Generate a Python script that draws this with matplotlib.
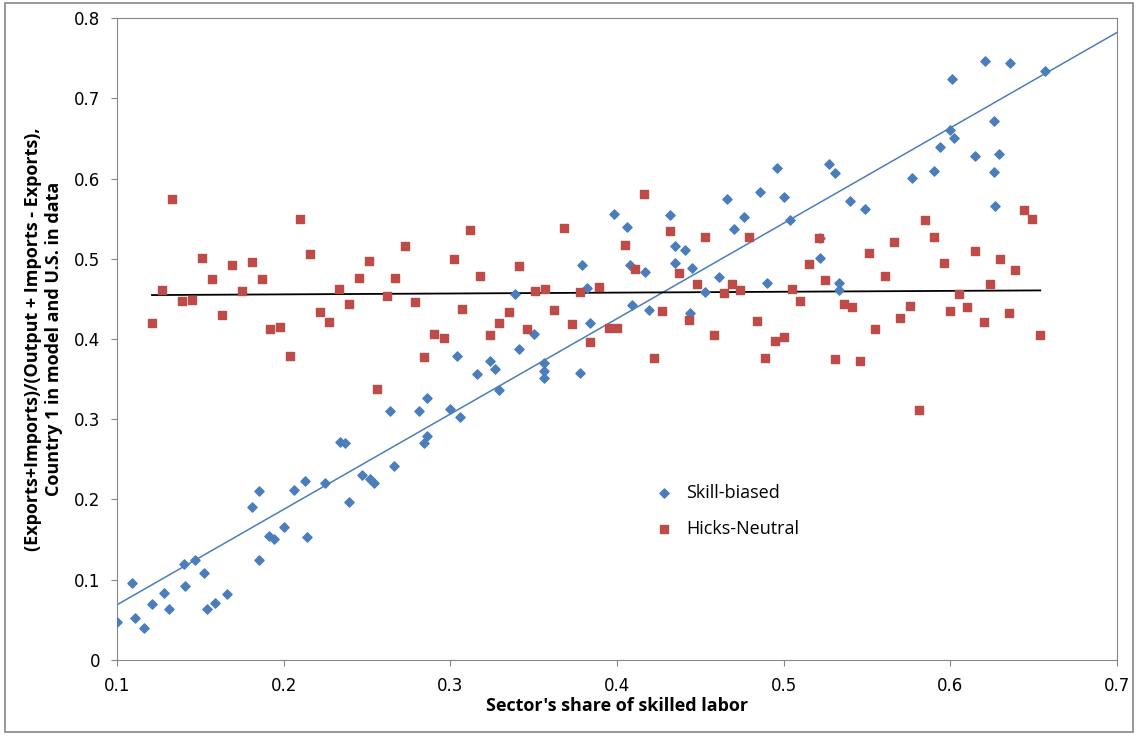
import numpy as np
import matplotlib
matplotlib.use("Agg")
import matplotlib.pyplot as plt
from matplotlib.patches import Rectangle

# Skill-biased (blue diamonds)
skill_x = [.100, .109, .111, .116, .121, .128, .131, .140, .141, .147, .152, .154, .159, .166,
           .181, .185, .185, .191, .194, .200, .206, .213, .214, .225, .234, .237, .239, .247,
           .252, .254, .266, .264, .281, .286, .284, .286, .304, .316, .324, .327, .329, .300,
           .306, .339, .341, .350, .356, .356, .356, .378, .379, .382, .384, .398, .406, .408,
           .409, .417, .419, .432, .435, .441, .435, .445, .444, .453, .461, .466, .470, .476,
           .486, .496, .500, .504, .490, .522, .522, .527, .531, .533, .533, .540, .549, .577,
           .590, .594, .600, .602, .601, .615, .621, .626, .629, .626, .627, .636, .657]
skill_y = [.047, .096, .052, .040, .070, .083, .064, .120, .092, .125, .108, .064, .071, .082,
           .191, .211, .125, .155, .151, .166, .212, .223, .153, .221, .272, .270, .197, .231,
           .226, .221, .242, .310, .310, .326, .270, .279, .379, .356, .373, .363, .336, .313,
           .303, .456, .388, .406, .370, .360, .351, .358, .492, .464, .420, .556, .540, .492,
           .442, .483, .436, .554, .516, .511, .495, .488, .432, .459, .477, .574, .537, .552,
           .583, .613, .577, .548, .470, .526, .501, .618, .607, .470, .461, .572, .562, .601,
           .609, .639, .660, .650, .724, .628, .746, .672, .630, .608, .566, .744, .734]

# Hicks-Neutral (red squares)
hicks_x = [.121, .127, .133, .139, .145, .151, .157, .163, .169, .175, .181, .187, .192, .198,
           .204, .210, .216, .222, .227, .233, .239, .245, .251, .256, .262, .267, .273, .279,
           .284, .290, .296, .302, .307, .312, .318, .324, .329, .335, .341, .346, .351, .357,
           .362, .368, .373, .378, .384, .389, .395, .400, .405, .411, .416, .422, .427, .432,
           .437, .443, .448, .453, .458, .464, .469, .474, .479, .484, .489, .495, .500, .505,
           .510, .515, .521, .525, .531, .536, .541, .546, .551, .555, .561, .566, .570, .576,
           .581, .585, .590, .596, .600, .605, .610, .615, .620, .624, .630, .635, .639, .644,
           .649, .654]
hicks_y = [.420, .461, .574, .447, .449, .501, .475, .430, .492, .460, .496, .475, .412, .415,
           .379, .549, .506, .434, .421, .462, .444, .476, .497, .338, .454, .476, .516, .446,
           .378, .406, .401, .500, .437, .536, .478, .405, .420, .434, .491, .412, .460, .462,
           .436, .538, .419, .459, .396, .465, .414, .414, .517, .487, .581, .376, .435, .535,
           .482, .424, .468, .527, .405, .457, .468, .461, .527, .422, .376, .397, .402, .462,
           .447, .493, .526, .473, .375, .444, .440, .373, .507, .412, .478, .521, .426, .441,
           .312, .548, .527, .495, .435, .456, .440, .510, .421, .468, .500, .432, .486, .561,
           .550, .405]

x_ticks = [0.1, 0.2, 0.3, 0.4, 0.5, 0.6, 0.7]
y_ticks = [0, 0.1, 0.2, 0.3, 0.4, 0.5, 0.6, 0.7, 0.8]

blue = "#4a7ebb"
red = "#be4b48"

fig = plt.figure(figsize=(11.38, 7.36), dpi=100)
ax = fig.add_axes([0.1028, 0.1033, 0.8787, 0.8722])

ax.scatter(skill_x, skill_y, marker="D", s=22, color=blue, label="Skill-biased", zorder=3)
ax.scatter(hicks_x, hicks_y, marker="s", s=30, color=red, label="Hicks-Neutral", zorder=3)

# linear trendlines
b1 = np.polyfit(skill_x, skill_y, 1)
xs = np.array([0.1, 0.7])
ax.plot(xs, np.polyval(b1, xs), color=blue, lw=1.1, zorder=2)
b2 = np.polyfit(hicks_x, hicks_y, 1)
xh = np.array([min(hicks_x), max(hicks_x)])
ax.plot(xh, np.polyval(b2, xh), color="black", lw=1.3, zorder=2)

ax.set_xlim(0.1, 0.7)
ax.set_ylim(0, 0.8)
ax.set_xticks(x_ticks)
ax.set_xticklabels([f"{t:g}" for t in x_ticks])
ax.set_yticks(y_ticks)
ax.set_yticklabels([f"{t:g}" for t in y_ticks])
ax.tick_params(direction="out", length=4, labelsize=12, color="#868686", pad=8)
for sp in ax.spines.values():
    sp.set_color("#868686")

ax.set_xlabel("Sector's share of skilled labor", fontsize=13, fontweight="bold",
              family="Open Sans", labelpad=2)
ax.set_ylabel("(Exports+Imports)/(Output + Imports - Exports),\nCountry 1 in model and U.S. in data",
              fontsize=13, fontweight="bold", family="Open Sans", labelpad=8)

ax.legend(loc="upper left", bbox_to_anchor=(0.513, 0.30), frameon=False,
          handletextpad=0.2, labelspacing=1.0, prop={"family": "Open Sans", "size": 13})

fig.patches.append(Rectangle((0.004, 0.006), 0.992, 0.99, transform=fig.transFigure,
                             fill=False, edgecolor="#868686", lw=1.2))

fig.savefig("out.png", dpi=100, facecolor="white")
